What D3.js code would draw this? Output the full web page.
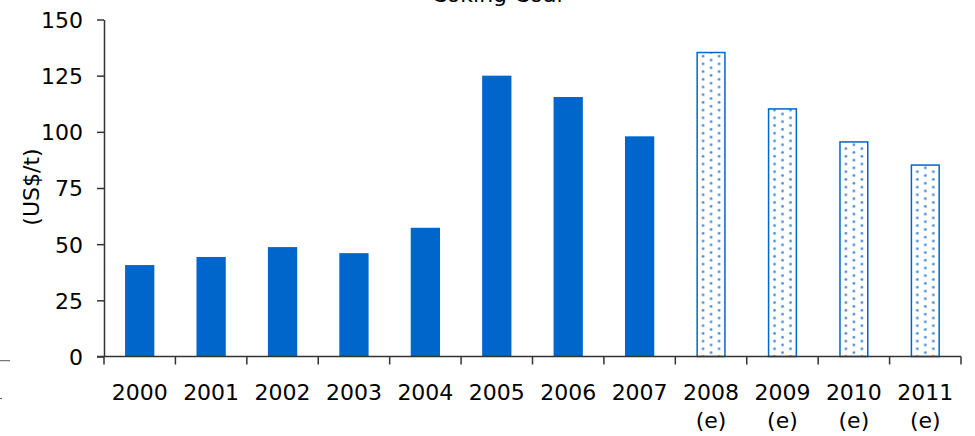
<!DOCTYPE html>
<html>
<head>
<meta charset="utf-8">
<script src="https://cdn.jsdelivr.net/npm/d3@7/dist/d3.min.js"></script>
<style>
  html, body { margin: 0; padding: 0; background: #fff; }
  svg { display: block; }
  text { font-family: "DejaVu Sans", Verdana, sans-serif; fill: #000; }
</style>
</head>
<body>
<svg id="chart" width="975" height="436"></svg>
<script>
// Coking coal price, US$/t; 2008 onwards are estimates
const years = ["2000", "2001", "2002", "2003", "2004", "2005", "2006", "2007", "2008", "2009", "2010", "2011"];
const prices = [40.7, 44.3, 48.7, 46, 57.3, 125, 115.5, 98, 135.3, 110.2, 95.5, 85.2];
const estimated = [false, false, false, false, false, false, false, false, true, true, true, true];
const yTicks = [0, 25, 50, 75, 100, 125, 150];
const title = "Coking Coal";
const yTitle = "(US$/t)";
const estimateNote = "(e)";

const blue = "#0066cc";
const dotBlue = "#3a87de";
const axisColor = "#333";

const svg = d3.select("#chart");
const plotLeft = 104, plotRight = 961, plotTop = 19.5, plotBottom = 356.5;
const pad = 0.59;

const x = d3.scaleBand().domain(years).range([plotLeft, plotRight])
  .paddingInner(pad).paddingOuter(pad / 2);
const y = d3.scaleLinear().domain([0, 150]).range([plotBottom, plotTop]);

// dotted fill for estimated bars, positioned per bar
const defs = svg.append("defs");
defs.append("pattern")
  .attr("id", "dots")
  .attr("patternUnits", "userSpaceOnUse")
  .attr("width", 16).attr("height", 7.7)
  .call(p => {
    p.append("rect").attr("width", 16).attr("height", 7.7).attr("fill", "#fff");
    p.append("circle").attr("cx", 6.7).attr("cy", 2.3).attr("r", 1.3).attr("fill", dotBlue);
    p.append("circle").attr("cx", 14.7).attr("cy", 6.15).attr("r", 1.3).attr("fill", dotBlue);
  });

// title, partly clipped by the top edge
svg.append("text")
  .attr("x", 497).attr("y", 2)
  .attr("text-anchor", "middle")
  .style("font-size", "22px")
  .text(title);

// y axis
const yAxis = svg.append("g")
  .attr("transform", `translate(${plotLeft},0)`)
  .call(d3.axisLeft(y).tickValues(yTicks).tickSize(7).tickSizeOuter(0).tickPadding(14));
yAxis.selectAll("text").style("font-size", "22px").attr("dy", "0.36em")
  .style("font-family", "'DejaVu Sans', Verdana, sans-serif").attr("fill", "#000");
yAxis.selectAll("line, path").attr("stroke", axisColor).attr("stroke-width", 1.5);

svg.append("text")
  .attr("transform", "translate(39,187) rotate(-90)")
  .attr("text-anchor", "middle")
  .style("font-size", "22px")
  .text(yTitle);

// bars
const bars = svg.append("g");
years.forEach((yr, i) => {
  const bx = x(yr), bw = x.bandwidth();
  const g = bars.append("g").attr("transform", `translate(${bx},0)`);
  if (estimated[i]) {
    g.append("rect")
      .attr("x", 0.75).attr("y", y(prices[i]))
      .attr("width", bw - 1.5).attr("height", plotBottom - y(prices[i]))
      .attr("fill", "url(#dots)")
      .attr("stroke", blue).attr("stroke-width", 1.5);
  } else {
    g.append("rect")
      .attr("x", 0).attr("y", y(prices[i]))
      .attr("width", bw).attr("height", plotBottom - y(prices[i]))
      .attr("fill", blue);
  }
});

// x axis line and category boundary ticks
svg.append("line")
  .attr("x1", plotLeft - 7).attr("x2", plotRight)
  .attr("y1", plotBottom).attr("y2", plotBottom)
  .attr("stroke", axisColor).attr("stroke-width", 1.5);
const gap = (x.step() - x.bandwidth()) / 2;
const bounds = years.map(d => x(d) - gap).concat([plotRight]);
svg.append("g").selectAll("line").data(bounds).join("line")
  .attr("x1", d => d).attr("x2", d => d)
  .attr("y1", plotBottom).attr("y2", plotBottom + 8)
  .attr("stroke", axisColor).attr("stroke-width", 1.5);

// category labels
const labels = svg.append("g");
years.forEach((yr, i) => {
  const cx = x(yr) + x.bandwidth() / 2;
  labels.append("text").attr("x", cx).attr("y", 400)
    .attr("text-anchor", "middle").style("font-size", "22px").text(yr);
  if (estimated[i]) {
    labels.append("text").attr("x", cx).attr("y", 428)
      .attr("text-anchor", "middle").style("font-size", "22px").text(estimateNote);
  }
});

// small stray strokes at the left edge
svg.append("line").attr("x1", 0).attr("x2", 10).attr("y1", 360.7).attr("y2", 360.7)
  .attr("stroke", "#555").attr("stroke-width", 1);
svg.append("line").attr("x1", 0).attr("x2", 2).attr("y1", 398.5).attr("y2", 398.5)
  .attr("stroke", "#555").attr("stroke-width", 1);
</script>
</body>
</html>
